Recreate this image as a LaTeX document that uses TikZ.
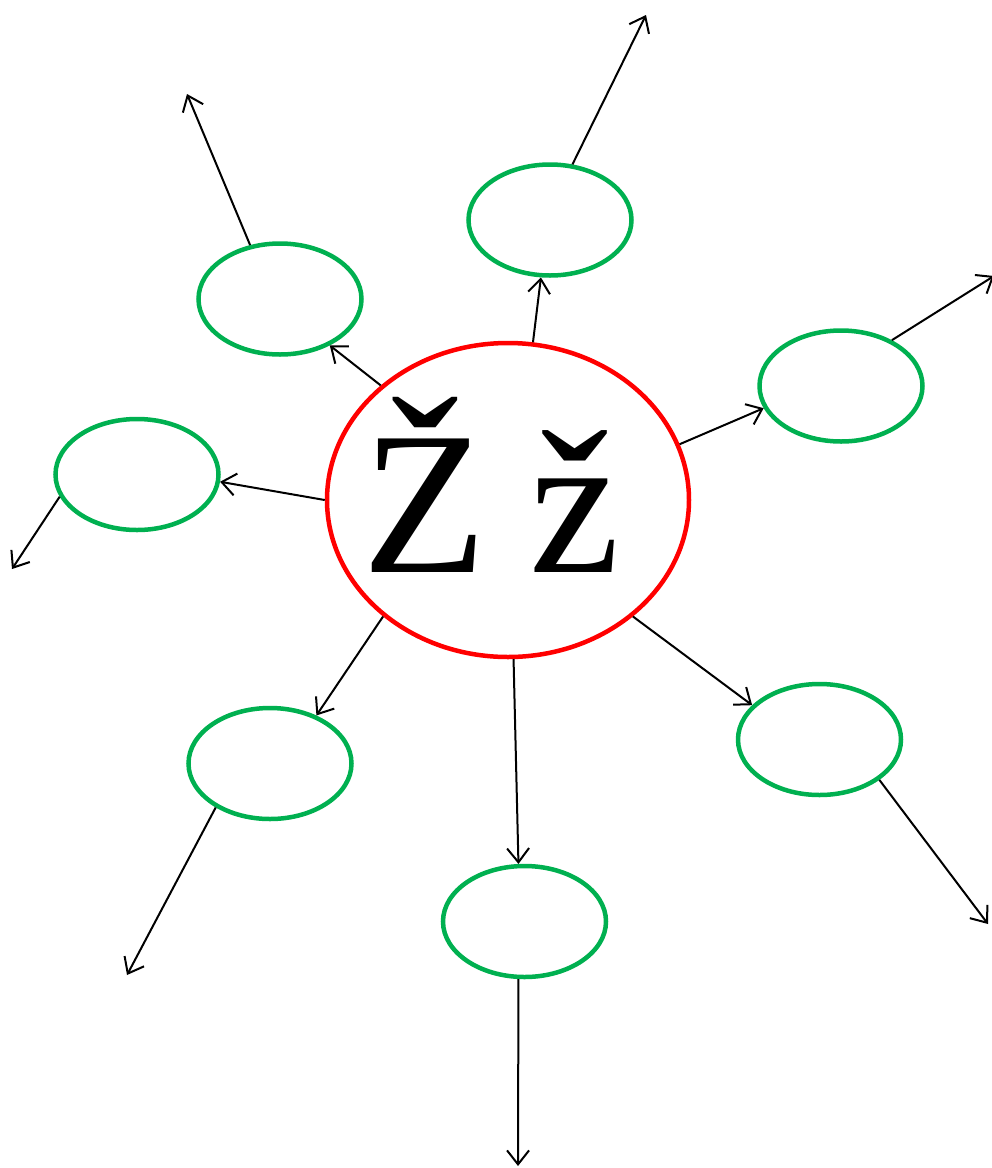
\documentclass[tikz,border=0pt]{standalone}
\usepackage{fontspec}
\setmainfont{Liberation Serif}
\usetikzlibrary{arrows.meta,shapes.geometric}
\definecolor{hubred}{HTML}{FF0000}
\definecolor{leafgreen}{HTML}{00B050}
\tikzset{>={Straight Barb[length=14pt,width=22pt]},
  hub/.style={ellipse,draw=hubred,line width=4.5pt,minimum width=362pt,
    minimum height=314pt,inner sep=0pt},
  leaf/.style={ellipse,draw=leafgreen,line width=4.5pt,minimum width=163pt,
    minimum height=111pt,inner sep=0pt},
  link/.style={->,line width=2pt}}

\begin{document}
\begin{tikzpicture}[x=1pt,y=-1pt]
\useasboundingbox (0,0) rectangle (992,1168);
\node[hub] (h) at (508,500) {};
\node[anchor=base west,inner sep=0pt,font=\fontsize{204}{208}\selectfont] (zz) at (362,572) {Ž\kern-8pt{} ž};
\node[leaf] (top) at (550,220) {}; \node[leaf] (ul) at (280,299) {};
\node[leaf] (rt) at (841,386) {}; \node[leaf] (lf) at (137,474.5) {};
\node[leaf] (ll) at (270,763.5) {}; \node[leaf] (bot) at (524.5,921.5) {};
\node[leaf] (lr) at (819.5,739.5) {};
% hub to leaves
\draw[link] (h.81.8)--(top.-99.6);
\draw[link] (h.138.6)--(ul.-43.7);
\draw[link] (h.18.4)--(rt.196.1);
\draw[link] (h.180)--(lf.-5.8);
\draw[link] (h.223.4)--(ll.46.6);
\draw[link] (h.-88.2)--(bot.96.4);
\draw[link] (h.-43.8)--(lr.153.3);
% leaves outward
\coordinate (topend) at (646,15); \coordinate (ulend) at (187,94);
\coordinate (rtend) at (994,276); \coordinate (lfend) at (12,569);
\coordinate (llend) at (127,975); \coordinate (botend) at (518,1166);
\coordinate (lrend) at (988,924);
\draw[link] (top.68)--(topend);
\draw[link] (ul.119.7)--(ulend);
\draw[link] (rt.42.5)--(rtend);
\draw[link] (lf.196.9)--(lfend);
\draw[link] (ll.219.9)--(llend);
\draw[link] (bot.-96.4)--(botend);
\draw[link] (lr.-34)--(lrend);
\end{tikzpicture}
\end{document}
